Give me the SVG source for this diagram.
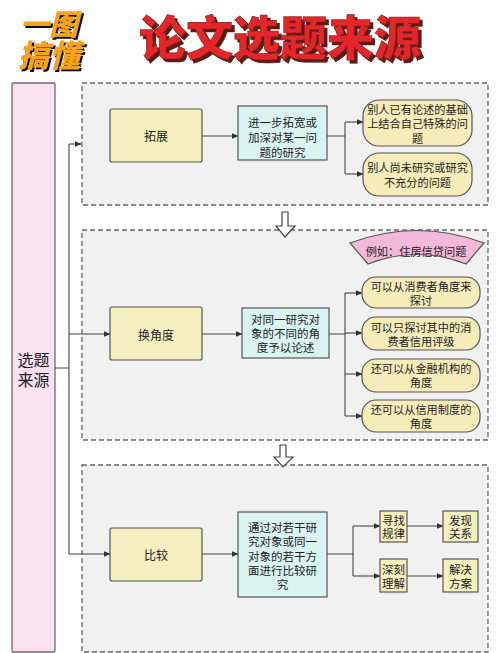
<svg xmlns="http://www.w3.org/2000/svg" width="500" height="653" viewBox="0 0 500 653">
<defs>
<marker id="ah" viewBox="0 0 10 10" refX="9" refY="5" markerWidth="7" markerHeight="7" markerUnits="userSpaceOnUse" orient="auto"><path d="M0,1 L10,5 L0,9 Z" fill="#333"/></marker>
<filter id="sh1" x="-10%" y="-10%" width="130%" height="140%"><feOffset in="SourceAlpha" dx="2" dy="2" result="o"/><feFlood flood-color="#111"/><feComposite in2="o" operator="in" result="s"/><feMerge><feMergeNode in="s"/><feMergeNode in="SourceGraphic"/></feMerge></filter>
<filter id="sh2" x="-10%" y="-10%" width="130%" height="140%"><feOffset in="SourceAlpha" dx="3" dy="3" result="o"/><feFlood flood-color="#5a1a12"/><feComposite in2="o" operator="in" result="s"/><feMerge><feMergeNode in="s"/><feMergeNode in="SourceGraphic"/></feMerge></filter>
<style>
text{font-family:"Noto Sans CJK SC","Noto Sans",sans-serif;}
.sec{fill:#f1f1f1;stroke:#666;stroke-width:1.3;stroke-dasharray:5,3;}
.yb{fill:#f4efbe;stroke:#555;stroke-width:1.2;}
.tb{fill:#d9f3f1;stroke:#555;stroke-width:1.2;}
.pill{fill:#f5ecb9;stroke:#555;stroke-width:1.2;}
.t{font-size:12px;fill:#222;text-anchor:middle;dominant-baseline:central;}
.s{font-size:11.5px;}
.p{font-size:11.2px;}
.c{fill:none;stroke:#444;stroke-width:1.1;}
.ca{fill:none;stroke:#444;stroke-width:1.1;marker-end:url(#ah);}
.ha{fill:#fff;stroke:#444;stroke-width:1.2;}
</style>
</defs>
<rect width="500" height="653" fill="#fff"/>

<g id="logo" font-weight="900" font-style="italic" filter="url(#sh1)">
<text x="49" y="35" font-size="29" text-anchor="middle" fill="#f5a31c">一图</text>
<text x="49" y="67" font-size="31" text-anchor="middle" fill="#f5a31c">搞懂</text>
</g>
<g id="title" font-weight="900" filter="url(#sh2)">
<text x="280" y="55" font-size="47" text-anchor="middle" fill="#e3262b" stroke="#8a1b1b" stroke-width="0.6">论文选题来源</text>
</g>

<g id="root">
<rect x="12" y="83" width="43" height="569" fill="#f9e1ed" stroke="#6f6a6d" stroke-width="1.3" rx="1"/>
<text class="t" style="font-size:16px"><tspan x="33.5" y="359">选题</tspan><tspan x="33.5" y="379">来源</tspan></text>
</g>

<g id="section1"><rect class="sec" x="82" y="83" width="406" height="122"/></g>
<g id="section2"><rect class="sec" x="82" y="230" width="406" height="210"/></g>
<g id="section3"><rect class="sec" x="82" y="465" width="406" height="187"/></g>

<g id="connectors">
<path class="c" d="M55,368 H69 M69,144 V554"/>
<path class="ca" d="M69,144 H81"/>
<path class="ca" d="M69,334 H110"/>
<path class="ca" d="M69,554 H110"/>
<path class="ca" d="M202,136 H238"/>
<path class="c" d="M327,136 H345 M345,122 V174"/>
<path class="ca" d="M345,122 H363"/>
<path class="ca" d="M345,174 H363"/>
<path class="ca" d="M202,334 H242"/>
<path class="c" d="M329,334 H345 M345,293 V416"/>
<path class="ca" d="M345,293 H362"/>
<path class="ca" d="M345,333 H362"/>
<path class="ca" d="M345,374 H362"/>
<path class="ca" d="M345,416 H362"/>
<path class="ca" d="M202,554 H238"/>
<path class="c" d="M327,554 H353 M353,526 V576"/>
<path class="ca" d="M353,526 H380"/>
<path class="ca" d="M353,576 H380"/>
<path class="ca" d="M407,526 H443"/>
<path class="ca" d="M407,576 H443"/>
<path class="ha" d="M282,212 H288 V226 H295 L285,237 L276,226 H282 Z"/>
<path class="ha" d="M280,445 H286 V457 H293 L283,467 L274,457 H280 Z"/>
</g>

<g id="n-tuozhan"><rect class="yb" x="110" y="109" width="92" height="53" rx="2"/><text class="t" x="156" y="135.5">拓展</text></g>
<g id="n-tuozhan-desc"><rect class="tb" x="238" y="106" width="89" height="54"/>
<text class="t s"><tspan x="282.5" y="122">进一步拓宽或</tspan><tspan x="282.5" y="137">加深对某一问</tspan><tspan x="282.5" y="152">题的研究</tspan></text></g>
<g id="n-p1"><rect class="pill" x="363" y="100" width="109" height="46" rx="16"/>
<text class="t p"><tspan x="417.5" y="108.5">别人已有论述的基础</tspan><tspan x="417.5" y="123">上结合自己特殊的问</tspan><tspan x="417.5" y="137.5">题</tspan></text></g>
<g id="n-p2"><rect class="pill" x="363" y="153" width="109" height="43" rx="16"/>
<text class="t p"><tspan x="417.5" y="167">别人尚未研究或研究</tspan><tspan x="417.5" y="182">不充分的问题</tspan></text></g>

<g id="n-huanjiaodu"><rect class="yb" x="110" y="307" width="92" height="53" rx="2"/><text class="t" x="156" y="334">换角度</text></g>
<g id="n-huanjiaodu-desc"><rect class="tb" x="242" y="308" width="87" height="50"/>
<text class="t s"><tspan x="285.5" y="319">对同一研究对</tspan><tspan x="285.5" y="333">象的不同的角</tspan><tspan x="285.5" y="347">度予以论述</tspan></text></g>
<g id="n-example"><path d="M350,243 Q417,218 484,243 L466,264 Q417,245 368,264 Z" fill="#f4b9d9" stroke="#555" stroke-width="1.2"/>
<text class="t p" x="416" y="251">例如：住房信贷问题</text></g>
<g id="n-q1"><rect class="pill" x="362" y="277" width="118" height="31" rx="14"/>
<text class="t p"><tspan x="421" y="286">可以从消费者角度来</tspan><tspan x="421" y="300">探讨</tspan></text></g>
<g id="n-q2"><rect class="pill" x="362" y="317" width="118" height="33" rx="14"/>
<text class="t p"><tspan x="421" y="327">可以只探讨其中的消</tspan><tspan x="421" y="341">费者信用评级</tspan></text></g>
<g id="n-q3"><rect class="pill" x="362" y="359" width="118" height="33" rx="14"/>
<text class="t p"><tspan x="421" y="368">还可以从金融机构的</tspan><tspan x="421" y="382">角度</tspan></text></g>
<g id="n-q4"><rect class="pill" x="362" y="400" width="118" height="32" rx="14"/>
<text class="t p"><tspan x="421" y="409">还可以从信用制度的</tspan><tspan x="421" y="423">角度</tspan></text></g>

<g id="n-bijiao"><rect class="yb" x="110" y="528" width="92" height="53" rx="2"/><text class="t" x="156" y="554">比较</text></g>
<g id="n-bijiao-desc"><rect class="tb" x="238" y="512" width="89" height="85"/>
<text class="t s"><tspan x="282.5" y="527">通过对若干研</tspan><tspan x="282.5" y="541">究对象或同一</tspan><tspan x="282.5" y="555.5">对象的若干方</tspan><tspan x="282.5" y="570">面进行比较研</tspan><tspan x="282.5" y="584">究</tspan></text></g>
<g id="n-xunzhao"><rect class="yb" x="380" y="511" width="27" height="31"/><text class="t s"><tspan x="393.5" y="520">寻找</tspan><tspan x="393.5" y="533">规律</tspan></text></g>
<g id="n-faxian"><rect class="yb" x="443" y="511" width="35" height="31"/><text class="t s"><tspan x="460.5" y="520">发现</tspan><tspan x="460.5" y="533">关系</tspan></text></g>
<g id="n-shenke"><rect class="yb" x="380" y="559" width="27" height="33"/><text class="t s"><tspan x="393.5" y="569">深刻</tspan><tspan x="393.5" y="583">理解</tspan></text></g>
<g id="n-jiejue"><rect class="yb" x="443" y="559" width="35" height="33"/><text class="t s"><tspan x="460.5" y="569">解决</tspan><tspan x="460.5" y="583">方案</tspan></text></g>
</svg>
